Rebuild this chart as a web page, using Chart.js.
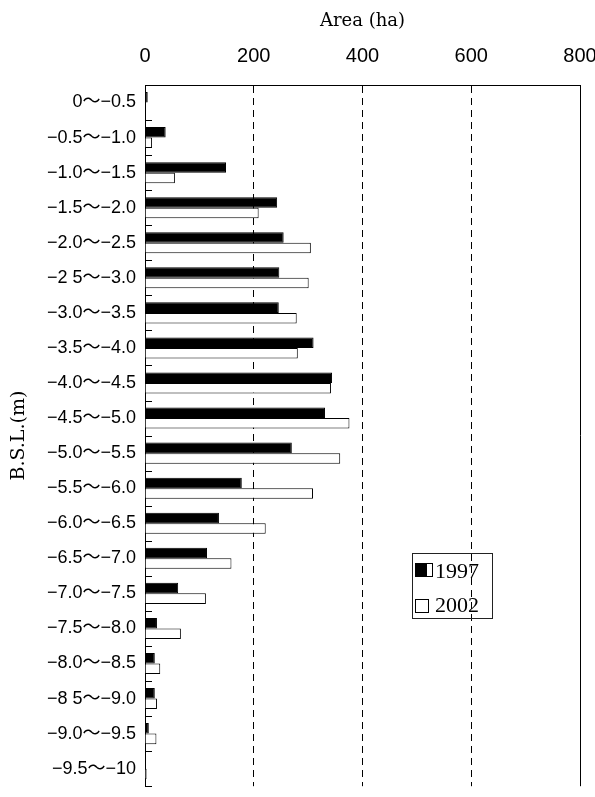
<!DOCTYPE html>
<html>
<head>
<meta charset="utf-8">
<script src="https://cdn.jsdelivr.net/npm/chart.js"></script>
<style>
  html, body { margin: 0; padding: 0; background: #fff; overflow: hidden; }
  #wrap { width: 595px; height: 806px; }
</style>
</head>
<body>
<div id="wrap"><canvas id="graphBSL" width="595" height="806"></canvas></div>
<script>
// depth classes below sea level (m)
const depthLabels = [
  '0～−0.5', '−0.5～−1.0', '−1.0～−1.5', '−1.5～−2.0', '−2.0～−2.5',
  '−2 5～−3.0', '−3.0～−3.5', '−3.5～−4.0', '−4.0～−4.5', '−4.5～−5.0',
  '−5.0～−5.5', '−5.5～−6.0', '−6.0～−6.5', '−6.5～−7.0', '−7.0～−7.5',
  '−7.5～−8.0', '−8.0～−8.5', '−8 5～−9.0', '−9.0～−9.5', '−9.5～−10'
];
// area in ha
const area1997 = [5, 38, 149, 243, 255, 247, 246, 310, 344, 331, 270, 178, 136, 114, 61, 22, 18, 18, 7, 0];
const area2002 = [0, 13, 55, 209, 305, 301, 279, 281, 342, 376, 359, 309, 222, 159, 112, 66, 28, 22, 21, 3];
const areaTicks = [0, 200, 400, 600, 800];

const sansFont = "'Liberation Sans', 'Noto Sans CJK JP', sans-serif";
const serifFont = "'DejaVu Serif', 'Liberation Serif', serif";
const legendFont = "'Liberation Serif', serif";

// right frame, inward ticks on the depth axis, boxed legend
const framePlugin = {
  id: 'frame',
  afterDraw(chart) {
    const ctx = chart.ctx;
    const a = chart.chartArea;
    const ys = chart.scales.y;
    ctx.save();
    ctx.strokeStyle = '#000';
    ctx.lineWidth = 1;
    ctx.beginPath();
    ctx.moveTo(Math.round(a.right) + 0.5, a.top);
    ctx.lineTo(Math.round(a.right) + 0.5, a.bottom);
    ctx.stroke();

    ctx.beginPath();
    for (let i = 1; i <= depthLabels.length; i++) {
      const y = Math.round((ys.getPixelForValue(i - 1) + ys.getPixelForValue(i)) / 2) + 0.5;
      ctx.moveTo(a.left, y);
      ctx.lineTo(a.left + 7, y);
    }
    ctx.stroke();

    // legend
    const lx = 412, ly = 553;
    ctx.strokeStyle = '#222';
    ctx.strokeRect(lx + 0.5, ly + 0.5, 80, 65);
    ctx.font = '22px ' + legendFont;
    ctx.textBaseline = 'middle';
    ctx.strokeStyle = '#000';
    // 1997 key
    ctx.fillStyle = '#000';
    ctx.fillRect(lx + 3, ly + 10, 12, 14);
    ctx.strokeRect(lx + 3.5, ly + 10.5, 17, 13);
    ctx.fillText(chart.data.datasets[0].label, lx + 23, ly + 19);
    // 2002 key
    ctx.fillStyle = '#fff';
    ctx.fillRect(lx + 3.5, ly + 46.5, 13, 13);
    ctx.strokeRect(lx + 3.5, ly + 46.5, 13, 13);
    ctx.fillStyle = '#000';
    ctx.fillText(chart.data.datasets[1].label, lx + 23, ly + 53);
    ctx.restore();
  }
};

const ctx = document.getElementById('graphBSL');
const barBSL = new Chart(ctx, {
  type: 'bar',
  data: {
    labels: depthLabels,
    datasets: [{
      label: '1997',
      data: area1997,
      backgroundColor: '#000',
      borderColor: '#000',
      borderWidth: 1,
      categoryPercentage: 0.6,
      barPercentage: 1.0
    }, {
      label: '2002',
      data: area2002,
      backgroundColor: '#fff',
      borderColor: '#000',
      borderWidth: 1,
      categoryPercentage: 0.6,
      barPercentage: 1.0
    }]
  },
  options: {
    indexAxis: 'y',
    responsive: false,
    animation: false,
    layout: { padding: { left: 0, right: 15, top: 0, bottom: 1 } },
    plugins: {
      legend: { display: false },
      tooltip: { enabled: false }
    },
    scales: {
      x: {
        position: 'top',
        min: areaTicks[0],
        max: areaTicks[areaTicks.length - 1],
        afterBuildTicks: (scale) => { scale.ticks = areaTicks.map(v => ({ value: v })); },
        afterFit: (scale) => {
          scale.height = 85;
          scale.paddingLeft = 0;
          scale.paddingRight = 0;
        },
        ticks: {
          color: '#000',
          padding: 17,
          font: { family: sansFont, size: 20 }
        },
        grid: {
          drawTicks: false,
          lineWidth: 1,
          color: (c) => (c.tick && (c.tick.value === 0 || c.tick.value === 800)) ? 'rgba(0,0,0,0)' : '#000'
        },
        border: { display: true, color: '#000', width: 1, dash: [7, 5] },
        title: {
          display: true,
          text: 'Area (ha)',
          color: '#000',
          font: { family: serifFont, size: 18 },
          padding: { top: 11, bottom: 0 }
        }
      },
      y: {
        afterFit: (scale) => { scale.width = 145; },
        ticks: {
          color: '#000',
          padding: 9,
          font: { family: sansFont, size: 18 }
        },
        grid: { display: false, drawTicks: false },
        border: { display: true, color: '#000', width: 1 },
        title: {
          display: true,
          text: 'B.S.L.(m)',
          color: '#000',
          font: { family: serifFont, size: 19 },
          padding: { top: 8, bottom: 0 }
        }
      }
    }
  },
  plugins: [framePlugin]
});
</script>
</body>
</html>
